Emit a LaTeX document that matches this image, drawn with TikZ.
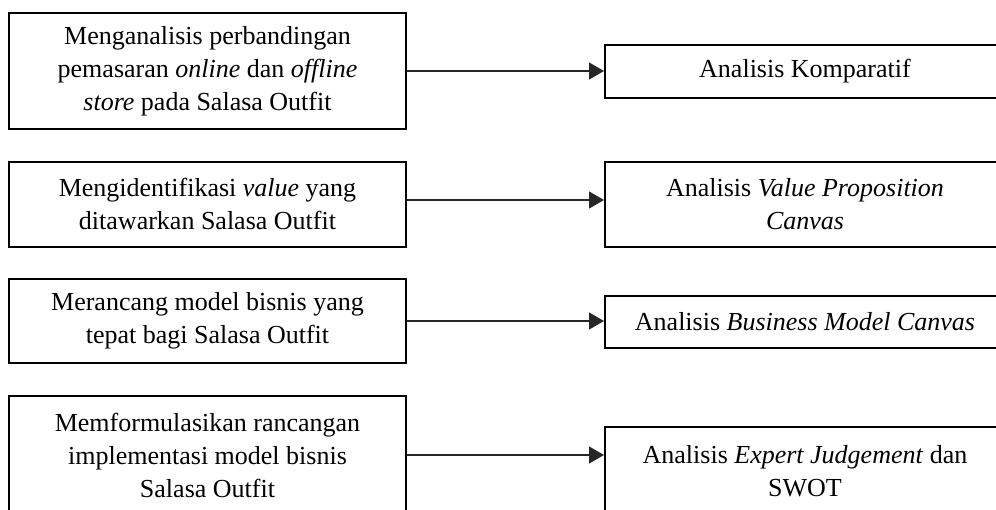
\documentclass[tikz,border=0pt]{standalone}
\usepackage{fontspec}
\setmainfont{Liberation Serif}
\usetikzlibrary{arrows.meta}
\tikzset{
  box/.style={draw=black, line width=2pt, align=center, inner sep=0pt,
    font=\fontsize{26}{33}\selectfont},
  conn/.style={line width=1.3pt, draw=black!85,
    -{Triangle[length=15pt,width=17pt]}, shorten >=0pt}
}
\begin{document}
\begin{tikzpicture}[x=1pt,y=-1pt]
\useasboundingbox (0,0) rectangle (996,509);
\clip (0,0) rectangle (996,509);
% left boxes
\node[box, minimum width=397pt, minimum height=116pt] (L1) at (207.5,71)
  {Menganalisis perbandingan\\pemasaran \textit{online} dan \textit{offline}\\\textit{store} pada Salasa Outfit};
\node[box, minimum width=397pt, minimum height=85pt] (L2) at (207.5,204)
  {Mengidentifikasi \textit{value} yang\\ditawarkan Salasa Outfit};
\node[box, minimum width=397pt, minimum height=84pt] (L3) at (207.5,321)
  {Merancang model bisnis yang\\tepat bagi Salasa Outfit};
\node[box, minimum width=397pt, minimum height=118pt] (L4) at (207.5,455)
  {Memformulasikan rancangan\\implementasi model bisnis\\Salasa Outfit};
% right boxes
\node[box, minimum width=400pt, minimum height=53pt] (R1) at (805,71.5)
  {Analisis Komparatif};
\node[box, minimum width=400pt, minimum height=85pt] (R2) at (805,204)
  {Analisis \textit{Value Proposition}\\\textit{Canvas}};
\node[box, minimum width=400pt, minimum height=52pt] (R3) at (805,322)
  {Analisis \textit{Business Model Canvas}};
\node[box, minimum width=400pt, minimum height=88pt] (R4) at (805,471)
  {Analisis \textit{Expert Judgement} dan\\SWOT};
% connectors
\draw[conn] (L1.east) -- (L1.east -| R1.west);
\draw[conn] ([yshift=4pt]L2.east) -- ([yshift=4pt]L2.east -| R2.west);
\draw[conn] (L3.east) -- (L3.east -| R3.west);
\draw[conn] (L4.east) -- (L4.east -| R4.west);
\end{tikzpicture}
\end{document}
